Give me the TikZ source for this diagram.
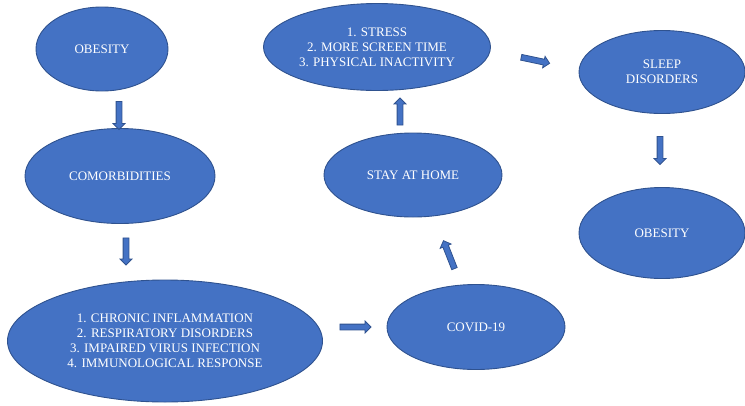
\documentclass[tikz,border=0pt]{standalone}
\usepackage{fontspec}
\setmainfont{Liberation Serif}
\usetikzlibrary{shapes,arrows,calc,positioning}
\definecolor{boxblue}{HTML}{4472C4}
\definecolor{rimblue}{HTML}{2F528F}

\begin{document}
\begin{tikzpicture}[x=1pt,y=-1pt,
  bubble/.style={ellipse,draw=rimblue,fill=boxblue,line width=0.9pt,inner sep=0pt,
    text=white,align=center,font=\fontsize{13}{15}\selectfont},
  fat/.style={single arrow,draw=rimblue,fill=boxblue,line width=0.8pt,inner sep=2.5pt,
    single arrow head extend=3pt,minimum height=#1},
  fat/.default=28pt]
  \useasboundingbox (0,0) rectangle (745,405);

        \node (ob) [bubble,minimum width=132pt,minimum height=84pt] at (102,49) {OBESITY};
        \node (como) [bubble,minimum width=190pt,minimum height=95pt] at (120,176) {COMORBIDITIES};
        \node (risk) [bubble,minimum width=315pt,minimum height=122pt] at (165,341)
          {1. CHRONIC INFLAMMATION\\2. RESPIRATORY DISORDERS\\3. IMPAIRED VIRUS INFECTION\\4. IMMUNOLOGICAL RESPONSE};
        \node (covid) [bubble,minimum width=178pt,minimum height=85pt] at (476,327) {COVID-19};
        \node (home) [bubble,minimum width=178pt,minimum height=84pt] at (413,175) {STAY AT HOME};
        \node (habit) [bubble,minimum width=227pt,minimum height=87pt] at (377,47)
          {1. STRESS\\2. MORE SCREEN TIME\\3. PHYSICAL INACTIVITY};
        \node (sleep) [bubble,minimum width=166pt,minimum height=83pt] at (662,72) {SLEEP\\DISORDERS};
        \node (ob2) [bubble,minimum width=166pt,minimum height=91pt] at (662,233) {OBESITY};

        \node (a1) [fat,rotate=-90] at (119,114) {};
        \node (a2) [fat=27pt,rotate=-90] at (126,250) {};
        \node (a3) [fat=31pt] at (354,327) {};
        \node (a4) [fat=30pt,rotate=111.5] at (449.5,256) {};
        \node (a5) [fat=27pt,rotate=90] at (400,113) {};
        \node (a6) [fat=29pt,rotate=-12] at (534,60) {};
        \node (a7) [fat,rotate=-90] at (660,149) {};
      \end{tikzpicture}
\end{document}
